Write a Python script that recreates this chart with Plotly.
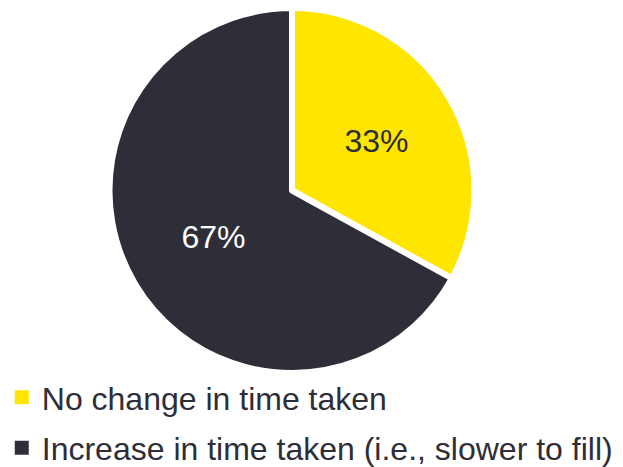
import plotly.graph_objects as go

labels = ["No change in time taken", "Increase in time taken (i.e., slower to fill)"]
values = [33, 67]
colors = ["#FFE600", "#2E2E38"]
text_colors = ["#2E2E38", "#FFFFFF"]

FONT = "Liberation Sans, Arial, sans-serif"

fig = go.Figure()
fig.add_trace(go.Pie(
    labels=labels,
    values=values,
    sort=False,
    direction="clockwise",
    rotation=0,
    marker=dict(colors=colors, line=dict(color="#FFFFFF", width=6)),
    texttemplate="%{value}%",
    textposition="inside",
    insidetextorientation="horizontal",
    textfont=dict(family=FONT, size=32, color=text_colors),
    hoverinfo="label+percent",
    showlegend=False,
    domain=dict(x=[0.1629, 0.7488], y=[0.2184, 1.0]),
))

# legend entries (square swatches)
for lab, col in zip(labels, colors):
    fig.add_trace(go.Scatter(
        x=[None], y=[None], mode="markers", name=lab, legendgroup=lab,
        marker=dict(symbol="square", size=14, color=col),
        showlegend=True, hoverinfo="skip",
    ))

fig.update_layout(
    width=623,
    height=467,
    margin=dict(l=0, r=0, t=0, b=0, autoexpand=False),
    paper_bgcolor="#FFFFFF",
    plot_bgcolor="#FFFFFF",
    font=dict(family=FONT, color="#2E2E38"),
    xaxis=dict(visible=False),
    yaxis=dict(visible=False),
    showlegend=True,
    legend=dict(
        x=-0.01, xanchor="left",
        y=-0.002, yanchor="bottom",
        orientation="v",
        font=dict(size=32, color="#2E2E38"),
        bgcolor="rgba(0,0,0,0)",
        tracegroupgap=6,
        itemsizing="trace",
        itemclick=False,
    ),
)

fig.write_html("out.html")
